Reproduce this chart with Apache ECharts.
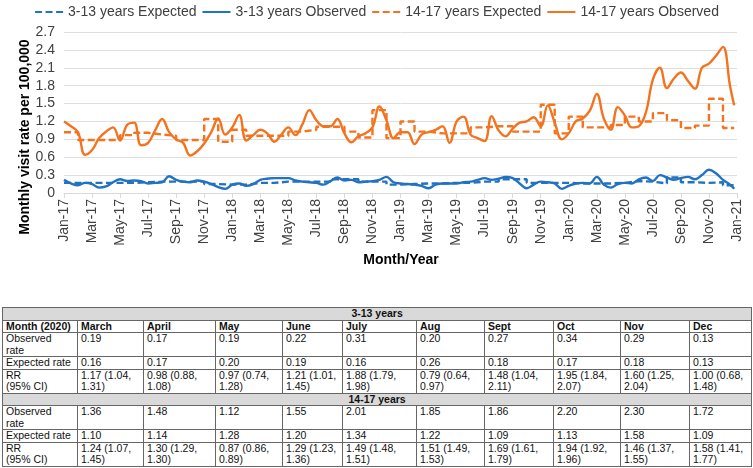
<!DOCTYPE html>
<html>
<head>
<meta charset="utf-8">
<title>Monthly visit rate per 100,000</title>
<script src="https://cdn.jsdelivr.net/npm/echarts@6/dist/echarts.min.js"></script>
<style>
  body { margin: 0; background: #fff; font-family: 'Liberation Sans', Arial, sans-serif; }
  #chart { position: absolute; left: 0; top: 0; width: 753px; height: 290px; }
  #tbl { position: absolute; left: 2px; top: 307px; width: 749px; border-collapse: collapse;
         table-layout: fixed; font-size: 10.5px; line-height: 11.5px; color: #111; }
  #tbl td { border: 1px solid #666; padding: 0 0 0 3px; vertical-align: top;
            white-space: nowrap; overflow: hidden; }
  #tbl tr.sec td { background: #d9d9d9; font-weight: bold; text-align: center; padding: 0; }
  #tbl tr.head td { font-weight: bold; }
</style>
</head>
<body>
<div id="chart"></div>
<table id="tbl"></table>
<script>
// x tick labels, every 2 months from Jan-17 to Jan-21
var tickLabels = ['Jan-17','Mar-17','May-17','Jul-17','Sep-17','Nov-17',
                  'Jan-18','Mar-18','May-18','Jul-18','Sep-18','Nov-18',
                  'Jan-19','Mar-19','May-19','Jul-19','Sep-19','Nov-19',
                  'Jan-20','Mar-20','May-20','Jul-20','Sep-20','Nov-20','Jan-21'];

// observed rates, read every half month (months since Jan-17), last one late Dec-20
var lastPoint = 47.8;
var obsX = [];
for (var i = 0; i < 96; i++) obsX.push(i / 2);
obsX.push(lastPoint);

var young_observed = [
  0.22,0.16,0.13,0.17,0.15,0.09,0.11,0.18,0.23,0.20,0.21,0.20,
  0.16,0.17,0.18,0.28,0.22,0.19,0.18,0.21,0.19,0.15,0.10,0.07,
  0.14,0.16,0.12,0.15,0.22,0.24,0.25,0.25,0.25,0.21,0.19,0.18,
  0.17,0.14,0.20,0.26,0.21,0.22,0.18,0.19,0.20,0.22,0.27,0.18,
  0.16,0.15,0.14,0.12,0.08,0.14,0.16,0.16,0.16,0.18,0.19,0.22,
  0.25,0.22,0.24,0.27,0.25,0.16,0.08,0.14,0.19,0.18,0.16,0.07,
  0.12,0.16,0.17,0.16,0.27,0.14,0.09,0.15,0.17,0.16,0.23,0.26,
  0.20,0.30,0.26,0.22,0.25,0.27,0.23,0.30,0.39,0.33,0.22,0.14,
  0.07];

var teen_observed = [
  1.20,1.12,1.02,0.64,0.72,0.92,1.03,1.10,0.88,1.14,1.18,0.80,
  0.84,1.05,1.24,1.02,0.90,0.84,0.63,0.70,0.83,1.02,1.25,0.98,
  1.10,1.31,0.88,0.97,1.06,1.00,0.86,0.98,1.10,0.97,1.15,1.39,
  1.22,1.12,1.12,1.24,1.00,0.85,0.95,1.00,1.10,1.45,1.22,0.92,
  1.02,1.02,0.82,0.98,1.02,1.06,1.12,0.84,1.20,1.28,0.98,0.92,
  0.87,1.29,1.05,0.95,1.08,1.18,1.20,1.27,1.12,1.47,1.18,0.90,
  1.00,1.20,1.25,1.38,1.66,1.25,1.06,1.44,1.30,1.10,1.12,1.35,
  1.90,2.10,1.76,1.92,2.02,1.88,1.75,2.10,2.17,2.30,2.45,1.80,
  1.47];

// expected rates, one per month (Jan-17 .. Dec-20)
var young_expected = [
  0.17,0.17,0.17,0.17,0.17,0.18,0.19,0.19,0.19,0.19,0.15,0.14,
  0.14,0.17,0.17,0.19,0.19,0.19,0.19,0.23,0.23,0.19,0.19,0.14,
  0.15,0.16,0.16,0.17,0.17,0.19,0.19,0.23,0.23,0.17,0.17,0.17,
  0.16,0.16,0.16,0.17,0.20,0.19,0.16,0.26,0.18,0.17,0.18,0.13];

var teen_expected = [
  1.02,0.89,0.89,0.89,0.97,1.01,0.98,0.96,0.89,0.89,1.24,0.86,
  1.06,0.96,0.96,0.96,1.03,1.06,1.11,1.11,1.03,0.93,1.39,0.92,
  1.20,1.03,1.00,1.00,1.00,1.10,1.12,1.12,1.03,1.03,1.48,1.00,
  1.28,1.10,1.10,1.14,1.28,1.20,1.34,1.22,1.09,1.13,1.58,1.09];

// table (2020)
var tableMonths = ['March','April','May','June','July','Aug','Sept','Oct','Nov','Dec'];
var young_obsRate = ['0.19','0.17','0.19','0.22','0.31','0.20','0.27','0.34','0.29','0.13'];
var young_expRate = ['0.16','0.17','0.20','0.19','0.16','0.26','0.18','0.17','0.18','0.13'];
var young_rr = ['1.17 (1.04,|1.31)','0.98 (0.88,|1.08)','0.97 (0.74,|1.28)','1.21 (1.01,|1.45)','1.88 (1.79,|1.98)',
                '0.79 (0.64,|0.97)','1.48 (1.04,|2.11)','1.95 (1.84,|2.07)','1.60 (1.25,|2.04)','1.00 (0.68,|1.48)'];
var teen_obsRate = ['1.36','1.48','1.12','1.55','2.01','1.85','1.86','2.20','2.30','1.72'];
var teen_expRate = ['1.10','1.14','1.28','1.20','1.34','1.22','1.09','1.13','1.58','1.09'];
var teen_rr = ['1.24 (1.07,|1.45)','1.30 (1.29,|1.30)','0.87 (0.86,|0.89)','1.29 (1.23,|1.36)','1.49 (1.48,|1.51)',
               '1.51 (1.49,|1.53)','1.69 (1.61,|1.79)','1.94 (1.92,|1.96)','1.46 (1.37,|1.55)','1.58 (1.41,|1.77)'];

var BLUE = '#2272c3', ORANGE = '#f4731f';
var FONT = "'Liberation Sans', Arial, sans-serif";

function obsData(vals) {
  return obsX.map(function (x, i) { return [x, vals[i]]; });
}
// each month value holds until the next month, last one to the end of data
function stepData(vals) {
  var d = vals.map(function (v, i) { return [i, v]; });
  d.push([lastPoint, vals[vals.length - 1]]);
  return d;
}

var chart = echarts.init(document.getElementById('chart'));
chart.setOption({
  animation: false,
  textStyle: { fontFamily: FONT },
  legend: {
    top: 0, left: 'center', itemWidth: 28, itemHeight: 14, itemGap: 5,
    itemStyle: { opacity: 0 },
    textStyle: { fontSize: 14, color: '#404040', fontFamily: FONT },
    data: ['3-13 years Expected', '3-13 years Observed', '14-17 years Expected', '14-17 years Observed']
  },
  grid: { left: 64, right: 16, top: 32, height: 161 },
  xAxis: {
    type: 'value', min: 0, max: 48, interval: 2,
    axisLine: { lineStyle: { color: '#d9d9d9', width: 1 } },
    axisTick: { show: true, length: 5, lineStyle: { color: '#d9d9d9' } },
    splitLine: { show: false },
    axisLabel: {
      rotate: 90, margin: 6, fontSize: 14, color: '#404040', fontFamily: FONT,
      formatter: function (v) { return tickLabels[Math.round(v / 2)]; }
    }
  },
  yAxis: {
    type: 'value', min: 0, max: 2.7, interval: 0.3,
    axisLine: { show: false }, axisTick: { show: false },
    splitLine: { lineStyle: { color: '#dedede', width: 1 } },
    axisLabel: {
      margin: 9, fontSize: 14, color: '#404040', fontFamily: FONT,
      formatter: function (v) { return v === 0 ? '0' : v.toFixed(1); }
    }
  },
  graphic: [
    { type: 'text', x: 25, y: 137, rotation: Math.PI / 2,
      style: { text: 'Monthly visit rate per 100,000', font: 'bold 14px ' + FONT,
               fill: '#000', align: 'center', verticalAlign: 'middle' } },
    { type: 'text', x: 401, y: 260,
      style: { text: 'Month/Year', font: 'bold 14px ' + FONT,
               fill: '#000', align: 'center', verticalAlign: 'middle' } }
  ],
  series: [
    { name: '3-13 years Expected', type: 'line', step: 'end', symbol: 'none',
      data: stepData(young_expected), color: BLUE,
      lineStyle: { color: BLUE, width: 2.4, type: [7, 3.5] } },
    { name: '3-13 years Observed', type: 'line', smooth: 0.4, symbol: 'none',
      data: obsData(young_observed), color: BLUE,
      lineStyle: { color: BLUE, width: 2.4 } },
    { name: '14-17 years Expected', type: 'line', step: 'end', symbol: 'none',
      data: stepData(teen_expected), color: ORANGE,
      lineStyle: { color: ORANGE, width: 2.4, type: [7, 3.5] } },
    { name: '14-17 years Observed', type: 'line', smooth: 0.4, symbol: 'none',
      data: obsData(teen_observed), color: ORANGE,
      lineStyle: { color: ORANGE, width: 2.4 } }
  ]
});

// table below the chart
var colWidths = [75, 66, 72, 67, 60, 74, 68, 69, 67, 69, 62];
function cell(txt) { return '<td>' + txt.split('|').join('<br>') + '</td>'; }
function row(cls, first, vals) {
  return '<tr' + (cls ? ' class="' + cls + '"' : '') + '>' + cell(first) + vals.map(cell).join('') + '</tr>';
}
var html = '<colgroup>' + colWidths.map(function (w) { return '<col style="width:' + w + 'px">'; }).join('') + '</colgroup>';
html += '<tr class="sec"><td colspan="11">3-13 years</td></tr>';
html += row('head', 'Month (2020)', tableMonths);
html += row('', 'Observed|rate', young_obsRate);
html += row('', 'Expected rate', young_expRate);
html += row('', 'RR|(95% CI)', young_rr);
html += '<tr class="sec"><td colspan="11">14-17 years</td></tr>';
html += row('', 'Observed|rate', teen_obsRate);
html += row('', 'Expected rate', teen_expRate);
html += row('', 'RR|(95% CI)', teen_rr);
document.getElementById('tbl').innerHTML = html;
</script>
</body>
</html>
